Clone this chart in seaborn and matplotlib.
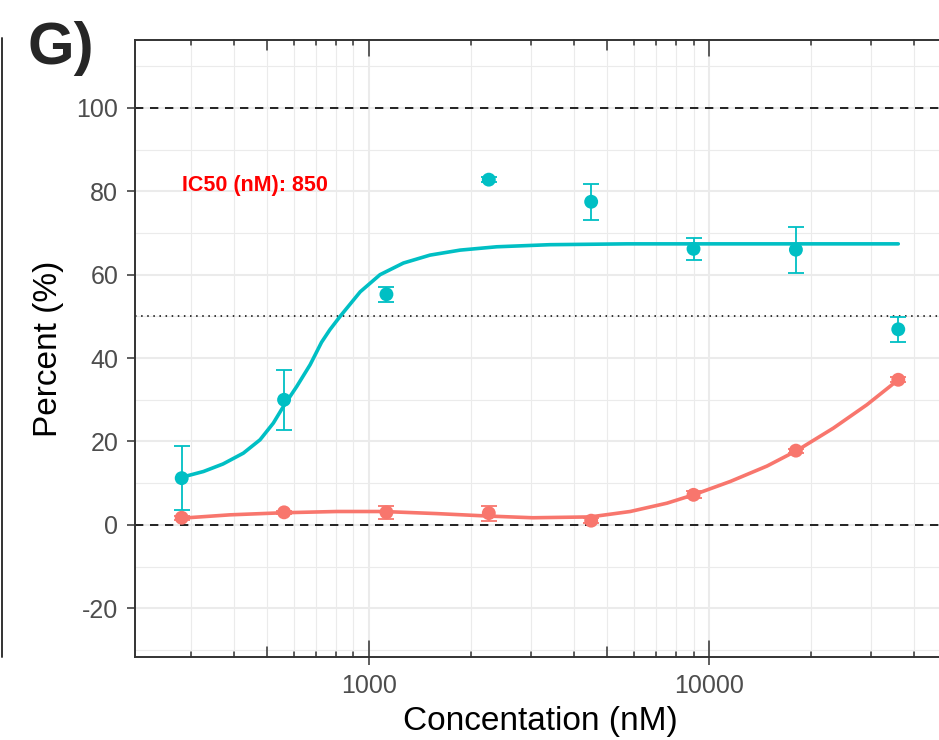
import numpy as np
import pandas as pd
import seaborn as sns
import matplotlib.pyplot as plt
from matplotlib.lines import Line2D
from matplotlib.ticker import FixedLocator, FuncFormatter, NullFormatter

# measured points (mean +/- error)
conc = [281.25, 562.5, 1125, 2250, 4500, 9000, 18000, 36000]
cyan_mean = [11.2, 30.0, 55.3, 82.8, 77.5, 66.2, 66.0, 46.9]
cyan_sd = [7.6, 7.2, 1.8, 0.6, 4.3, 2.6, 5.5, 3.0]
red_mean = [1.7, 3.0, 3.0, 2.8, 1.0, 7.2, 17.8, 34.8]
red_sd = [0.5, 0.4, 1.5, 1.8, 0.6, 0.8, 0.5, 0.6]

# fitted curves
cyan_fit_x = [281, 326, 372, 427, 478, 523, 560, 613, 671, 725, 767, 822, 942, 1077,
              1262, 1511, 1853, 2375, 3400, 5730, 36000]
cyan_fit_y = [11.4, 12.8, 14.6, 17.2, 20.4, 24.4, 28.4, 33.2, 38.4, 43.8, 46.8, 50.0, 55.9, 60.0,
              62.8, 64.7, 65.9, 66.7, 67.2, 67.4, 67.4]
red_fit_x = [281, 390, 559, 804, 1100, 1580, 2250, 3030, 4470, 5860, 7520, 9000, 11540,
             14800, 18100, 23200, 29100, 36000]
red_fit_y = [1.6, 2.4, 2.9, 3.2, 3.2, 2.7, 2.1, 1.7, 1.9, 3.2, 5.2, 7.2, 10.4,
             14.1, 17.8, 23.2, 28.8, 34.8]

ic50_label = "IC50 (nM): 850"
ic50_pos = (281, 81.5)
dashed_lines = [0, 100]
dotted_lines = [50]

x_major = [1000, 10000]
x_minor = [m * d for d in [100, 1000, 10000] for m in range(2, 10)]
y_major = [-20, 0, 20, 40, 60, 80, 100]
y_minor = [-30, -10, 10, 30, 50, 70, 90, 110]

CYAN = "#00BFC4"
RED = "#F8766D"

sns.set_theme(style="white")
plt.rcParams['font.family'] = ['Liberation Sans', 'DejaVu Sans']
plt.rcParams['axes.unicode_minus'] = False

df = pd.DataFrame({
    "conc": conc * 2,
    "pct": cyan_mean + red_mean,
    "sd": cyan_sd + red_sd,
    "grp": ["cyan"] * len(conc) + ["red"] * len(conc),
})

W, H = 939, 740
fig = plt.figure(figsize=(W / 100, H / 100), dpi=100)
ax = fig.add_axes([135 / W, 83 / H, 810 / W, 617 / H])
ax.set_xscale("log")
xlim = (205, 49400)
ax.set_xlim(*xlim)
ax.set_ylim(-31.7, 116.3)

# grid
ax.xaxis.set_major_locator(FixedLocator(x_major))
ax.xaxis.set_minor_locator(FixedLocator(x_minor))
ax.xaxis.set_major_formatter(FuncFormatter(lambda v, p: f"{v:.0f}"))
ax.xaxis.set_minor_formatter(NullFormatter())
ax.yaxis.set_major_locator(FixedLocator(y_major))
ax.yaxis.set_minor_locator(FixedLocator(y_minor))
ax.set_axisbelow(True)
ax.grid(which="major", color="#EBEBEB", lw=1.5)
ax.grid(which="minor", color="#EBEBEB", lw=0.8)

for v in dashed_lines:
    ax.axhline(v, color="black", lw=1.2, ls=(0, (5, 4)), zorder=2)
for v in dotted_lines:
    ax.axhline(v, color="black", lw=1.1, ls=(0, (1, 3)), zorder=2)

# curves
sns.lineplot(x=cyan_fit_x, y=cyan_fit_y, color=CYAN, lw=2.6, ax=ax, zorder=3)
sns.lineplot(x=red_fit_x, y=red_fit_y, color=RED, lw=2.6, ax=ax, zorder=3)

# error bars + points
for grp, col in [("cyan", CYAN), ("red", RED)]:
    sub = df[df.grp == grp]
    ax.errorbar(sub.conc, sub.pct, yerr=sub.sd, fmt="none", ecolor=col,
                elinewidth=1.3, capsize=5.5, capthick=1.3, zorder=4)
sns.scatterplot(data=df, x="conc", y="pct", hue="grp", palette={"cyan": CYAN, "red": RED},
                s=100, linewidth=0, legend=False, ax=ax, zorder=5)

ax.text(ic50_pos[0], ic50_pos[1], ic50_label, color="#FF0000", fontsize=15.5,
        fontweight="bold", ha="left", va="center")

# spines and ticks
for s in ["left", "bottom", "top"]:
    ax.spines[s].set_color("#333333")
    ax.spines[s].set_linewidth(1.4)
ax.spines["right"].set_visible(False)
ax.tick_params(axis="both", which="major", direction="out", length=6, width=1.1,
               color="#333333", labelsize=18, labelcolor="#4D4D4D", pad=6)
ax.tick_params(axis="both", which="minor", length=0)
ax.tick_params(axis="x", which="major", top=False, bottom=True)
ax.tick_params(axis="y", which="major", left=True)

# log ticks inside, bottom and top
long_l, mid_l, short_l = 16 / 617, 10 / 617, 5 / 617
tr = ax.get_xaxis_transform()
for d in [100, 1000, 10000]:
    for m in range(1, 10):
        v = d * m
        if not (xlim[0] <= v <= xlim[1]):
            continue
        L = long_l if m == 1 else (mid_l if m == 5 else short_l)
        ax.plot([v, v], [0, L], transform=tr, color="#333333", lw=1.1, clip_on=False, zorder=6)
        ax.plot([v, v], [1, 1 - L], transform=tr, color="#333333", lw=1.1, clip_on=False, zorder=6)

ax.set_xlabel("Concentation (nM)", fontsize=24, color="black")
ax.set_ylabel("Percent (%)", fontsize=24, color="black")
ax.xaxis.set_label_coords(0.5, (657 - 706) / 617)
ax.yaxis.set_label_coords((64 - 135) / 810, 0.5)

# panel tag and neighbour panel edge
fig.text(28 / W, 1 - 48 / H, "G)", fontsize=43, fontweight="bold", ha="left", va="center")
fig.add_artist(Line2D([1.5 / W, 1.5 / W], [1 - 38 / H, 1 - 657 / H], transform=fig.transFigure,
                      color="#333333", lw=1.4))

fig.savefig("out.png", dpi=100)
